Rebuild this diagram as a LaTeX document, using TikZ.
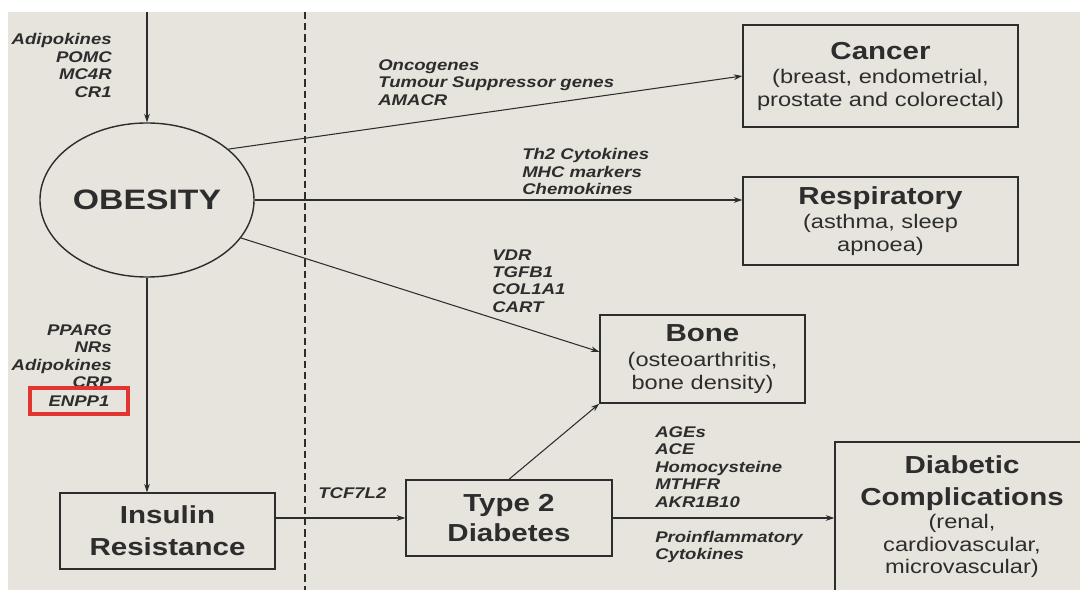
\documentclass[tikz,border=0pt]{standalone}
\usepackage{fontspec}
\setmainfont[FakeStretch=1.2]{Liberation Sans}
\usetikzlibrary{arrows.meta,shapes.geometric}
\definecolor{paper}{RGB}{230,228,220}
\definecolor{ink}{RGB}{45,45,45}
\definecolor{markred}{RGB}{226,52,48}
\newcommand{\boxtitle}{\fontsize{17.5}{23}\selectfont\bfseries}
\newcommand{\boxsub}{\fontsize{14}{16}\selectfont\mdseries}
\tikzset{
	disease/.style={draw=ink, line width=1pt, rectangle, inner sep=2pt, align=center, text=ink, font=\boxsub},
	genes/.style={inner sep=0pt, text=ink, font=\fontsize{11}{12.4}\selectfont\bfseries\itshape},
	link/.style={draw=ink, line width=0.75pt, -{Stealth[length=6pt,width=4pt]}},
	divider/.style={draw=ink, line width=2pt, dash pattern=on 5pt off 3pt},
}

\begin{document}
\begin{tikzpicture}[x=0.025cm, y=-0.025cm]
		\useasboundingbox (0,0) rectangle (1080,590);
		\clip (0,0) rectangle (1080,590);
		\fill[paper] (8,12) rectangle (1080,590);
		\draw[divider] (305,12) -- (305,590);

		\node[shape=ellipse, draw=ink, line width=1pt, inner sep=0pt, minimum width=5.35cm, minimum height=3.85cm, text=ink, font=\fontsize{20}{24}\selectfont\bfseries] (obesity) at (147,200) {OBESITY};
		\node[disease, minimum width=6.875cm, minimum height=2.55cm] (cancer) at (880.5,76) {{\boxtitle Cancer}\\[1.4pt](breast, endometrial,\\prostate and colorectal)};
		\node[disease, minimum width=6.875cm, minimum height=2.2cm] (resp) at (880.5,221) {{\boxtitle Respiratory}\\[1pt](asthma, sleep\\apnoea)};
		\node[disease, minimum width=5.125cm, minimum height=2.2cm] (bone) at (702.5,359) {{\boxtitle Bone}\\[1.8pt](osteoarthritis,\\bone density)};
		\node[disease, font=\boxtitle, minimum width=5.375cm, minimum height=1.9cm] (insulin) at (167.5,531) {Insulin\\Resistance};
		\node[disease, font=\boxtitle, minimum width=5.15cm, minimum height=1.9cm] (t2d) at (509,518) {Type 2\\[-1.7pt]Diabetes};
		\node[disease, minimum width=6.35cm, minimum height=3.95cm] (diabcomp) at (962,521) {{\boxtitle Diabetic}\\[6.8pt]{\boxtitle Complications}\\[0.5pt](renal,\\cardiovascular,\\microvascular)\\[-7pt]\mbox{}};

		\node[genes, anchor=east, align=right] (toplab) at (112,65.5) {Adipokines\\POMC\\MC4R\\CR1};
		\node[genes, anchor=east, align=right] (irlab) at (112,356) {PPARG\\NRs\\Adipokines\\CRP};
		\node[genes, draw=markred, line width=2.5pt, minimum width=2.45cm, minimum height=0.65cm] (enpp) at (79,401) {ENPP1};
		\node[genes, anchor=west, align=left] (oncolab) at (378,82.5) {Oncogenes\\Tumour Suppressor genes\\AMACR};
		\node[genes, anchor=west, align=left] (resplab) at (522,171.5) {Th2 Cytokines\\MHC markers\\Chemokines};
		\node[genes, anchor=west, align=left] (bonelab) at (492,281) {VDR\\TGFB1\\COL1A1\\CART};
		\node[genes, anchor=west] (tcflab) at (318,493) {TCF7L2};
		\node[genes, anchor=west, align=left] (complab) at (655,467) {AGEs\\ACE\\Homocysteine\\MTHFR\\AKR1B10};
		\node[genes, anchor=west, align=left] (cytolab) at (655,547) {Proinflammatory\\Cytokines};
		\coordinate (topin) at (147,12);

		\path (topin) edge[link] (obesity.north);
		\path (obesity.32) edge[link] (cancer.west);
		\path (obesity.east) edge[link] (obesity.east -| resp.west);
		\path (obesity.-22) edge[link] (bone.176);
		\path (obesity.south) edge[link] (obesity.south |- insulin.north);
		\path (insulin.east |- t2d.west) edge[link] (t2d.west);
		\path (t2d.north) edge[link] (bone.south west);
		\path (t2d.east) edge[link] (t2d.east -| diabcomp.west);
	\end{tikzpicture}
\end{document}
